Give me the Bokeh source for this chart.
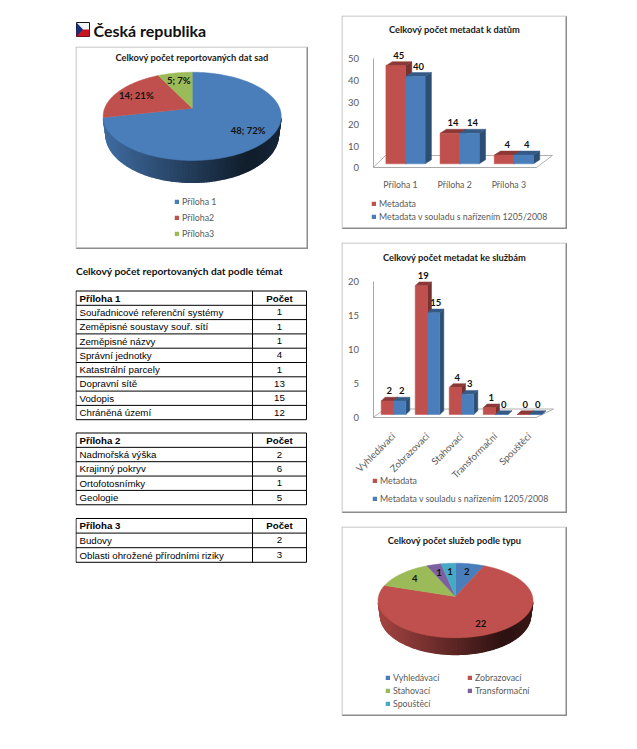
import math
from bokeh.embed import file_html
from bokeh.resources import INLINE
from bokeh.plotting import figure
from bokeh.layouts import row, column
from bokeh.models import Range1d, FixedTicker, Legend, LegendItem
from bokeh.core.properties import value

# ---------- data ----------
heading = "Česká republika"

pie1_title = "Celkový počet reportovaných dat sad"
pie1_names = ["Příloha 1", "Příloha2", "Příloha3"]
pie1_values = [48, 14, 5]
pie1_labels = ["48; 72%", "14; 21%", "5; 7%"]

bar1_title = "Celkový počet metadat k datům"
bar1_cats = ["Příloha 1", "Příloha 2", "Příloha 3"]
bar1_meta = [45, 14, 4]
bar1_conf = [40, 14, 4]

bar2_title = "Celkový počet metadat ke službám"
bar2_cats = ["Vyhledávací", "Zobrazovací", "Stahovací", "Transformační", "Spouštěcí"]
bar2_meta = [2, 19, 4, 1, 0]
bar2_conf = [2, 15, 3, 0, 0]

series_names = ["Metadata", "Metadata v souladu s nařízením 1205/2008"]

pie2_title = "Celkový počet služeb podle typu"
pie2_names = ["Vyhledávací", "Zobrazovací", "Stahovací", "Transformační", "Spouštěcí"]
pie2_values = [2, 22, 4, 1, 1]

table_title = "Celkový počet reportovaných dat podle témat"
count_header = "Počet"
t1_header = "Příloha 1"
t1_names = ["Souřadnicové referenční systémy", "Zeměpisné soustavy souř. sítí", "Zeměpisné názvy",
            "Správní jednotky", "Katastrální parcely", "Dopravní sítě", "Vodopis", "Chráněná území"]
t1_counts = [1, 1, 1, 4, 1, 13, 15, 12]
t2_header = "Příloha 2"
t2_names = ["Nadmořská výška", "Krajinný pokryv", "Ortofotosnímky", "Geologie"]
t2_counts = [2, 6, 1, 5]
t3_header = "Příloha 3"
t3_names = ["Budovy", "Oblasti ohrožené přírodními riziky"]
t3_counts = [2, 3]

# ---------- style ----------
BLUE, RED, GREEN, PURPLE, TEAL = "#4A7EBB", "#C0504D", "#9BBB59", "#7D60A0", "#46AAC5"
FONT = value("Lato")
GREY = "#595959"


def rgb(hexc):
    return [int(hexc[i:i + 2], 16) for i in (1, 3, 5)]


def shade(hexc, f):
    return "#%02x%02x%02x" % tuple(int(max(0, min(255, c * f))) for c in rgb(hexc))


def panel(w, h, x0, x1, y0, y1, margin):
    p = figure(width=w, height=h, output_backend="svg", toolbar_location=None,
               x_range=Range1d(x0, x1), y_range=Range1d(y0, y1),
               min_border=0, min_border_left=0, min_border_right=0,
               min_border_top=0, min_border_bottom=0, margin=margin,
               background_fill_color="white", border_fill_color="white")
    p.grid.visible = False
    return p


def box_frame(p, w, h, fx, fy):
    """grey frame with its heavier lower/right edge; fx, fy turn pixels into data"""
    p.outline_line_color = None
    p.line([fx(.5), fx(.5), fx(w - 1), fx(w - 1), fx(.5)],
           [fy(.5), fy(h - 1), fy(h - 1), fy(.5), fy(.5)], line_color="#b4b4b4", line_width=1)
    p.line([fx(1), fx(w - 1), fx(w - 1)], [fy(h - 1), fy(h - 1), fy(1)], line_color="#8c8c8c", line_width=2)


def legend(p, items, x, y, spacing, ncols=1, label_width=20, orientation="vertical"):
    lg = Legend(items=[LegendItem(label=value(n), renderers=[r]) for n, r in items],
                location=(x, y), orientation=orientation, ncols=ncols, padding=0, margin=0,
                border_line_color=None, background_fill_alpha=0,
                glyph_width=5, glyph_height=5, label_height=9, label_width=label_width,
                label_standoff=3, spacing=spacing,
                label_text_font="Lato", label_text_font_size="8.8px", label_text_color=GREY)
    p.add_layout(lg, "center")


def pie_panel(w, h, margin, title, title_y, names, values, colors, labels, apex, a, b, k, depth,
              leg):
    p = panel(w, h, 0, w, h, 0, margin)
    p.xaxis.visible = False
    p.yaxis.visible = False
    box_frame(p, w, h, lambda v: v, lambda v: v)
    p.text([w / 2], [title_y], text=[title], text_font=FONT, text_font_style="bold",
           text_font_size="9.3px", text_align="center", text_baseline="middle", text_color="#1a1a1a")
    ax, ay = apex

    def proj(t, r=1.0, drop=0.0):
        u, v = r * math.sin(t), r * math.cos(t)
        wp = 1 + k * v
        return ax + a * u / (wp + 0.03 * (drop > 0)), ay - b * v / wp + drop / wp

    total = sum(values)
    edges = [0.0]
    for val in values:
        edges.append(edges[-1] + val / total * 2 * math.pi)
    # outer wall: strips along the visible front rim
    left, right = ax - a * 1.02, ax + a * 1.02
    xs, ys, cols = [], [], []
    for i, col in enumerate(colors):
        n = max(2, int((edges[i + 1] - edges[i]) / math.radians(1.5)))
        for j in range(n):
            t0 = edges[i] + (edges[i + 1] - edges[i]) * j / n
            t1 = edges[i] + (edges[i + 1] - edges[i]) * (j + 1) / n
            if math.cos((t0 + t1) / 2) > -k - 0.04:
                continue
            x0, y0 = proj(t0)
            x1, y1 = proj(t1)
            x2, y2 = proj(t1, drop=depth)
            x3, y3 = proj(t0, drop=depth)
            tt = ((x0 + x1) / 2 - left) / (right - left)
            f = 0.86 - 0.62 * min(1, tt / 0.8) + max(0, tt - 0.85) * 0.5
            xs.append([x0, x1, x2, x3])
            ys.append([y0, y1, y2, y3])
            cols.append(shade(col, f))
    p.patches(xs, ys, fill_color=cols, line_color=cols, line_width=1.2)
    rends = []
    for i, col in enumerate(colors):
        n = max(2, int((edges[i + 1] - edges[i]) / math.radians(1)))
        pts = [proj(edges[i] + (edges[i + 1] - edges[i]) * j / n) for j in range(n + 1)]
        rends.append(p.patch([ax] + [q[0] for q in pts], [ay] + [q[1] for q in pts],
                             fill_color=col, line_color=col, line_width=0.5))
    lx, ly = [], []
    for i in range(len(values)):
        qx, qy = proj((edges[i] + edges[i + 1]) / 2, r=0.75)
        lx.append(qx)
        ly.append(qy)
    p.text(lx, ly, text=labels, text_font=FONT, text_font_style="bold", text_font_size="9.5px",
           text_align="center", text_baseline="middle", text_color="#111111")
    legend(p, list(zip(names, rends)), **leg)
    return p


def bar_panel(w, h, margin, title, title_y, cats, meta, conf, cat0, cat_step, y0, scale, vmax, step,
              axis_x, front_end, back, bar_w, group_off, lift, dx, dy, orient, standoff, leg):
    # pixel geometry is turned into the value scale / the category scale
    p = panel(w, h, -cat0 / cat_step, (w - cat0) / cat_step, -(h - y0) / scale, y0 / scale, margin)
    fx = lambda px: (px - cat0) / cat_step
    fy = lambda py: (y0 - py) / scale
    box_frame(p, w, h, fx, fy)
    p.text([fx(w / 2)], [fy(title_y)], text=[title], text_font=FONT, text_font_style="bold",
           text_font_size="9.3px", text_align="center", text_baseline="middle", text_color="#1a1a1a")
    # floor
    bx0, bx1, by = back
    p.line([fx(axis_x), fx(bx0), fx(bx1), fx(front_end)], [0, fy(by), fy(by), 0],
           line_color="#b0b0b0", line_width=1)

    ddx, ddy, bw, gap, base = dx / cat_step, dy / scale, bar_w / cat_step, group_off / cat_step, lift / scale

    rend = []
    for vals, col, sgn in ((meta, RED, -1), (conf, BLUE, 0)):
        cl = [i + gap + sgn * bw for i in range(len(vals))]
        cr = [c + bw for c in cl]
        tops = [base + v for v in vals]
        side = [[r, r + ddx, r + ddx, r] for r in cr]
        sidey = [[base, base + ddy, t + ddy, t] for t in tops]
        cap = [[l, l + ddx, r + ddx, r] for l, r in zip(cl, cr)]
        capy = [[t, t + ddy, t + ddy, t] for t in tops]
        p.patches(side, sidey, fill_color=shade(col, 0.62), line_color=shade(col, 0.62), line_width=0.5)
        p.patches(cap, capy, fill_color=shade(col, 0.72), line_color=shade(col, 0.72), line_width=0.5)
        rend.append(p.quad(left=cl, right=cr, bottom=[base] * len(vals), top=tops,
                           fill_color=col, line_color=col, line_width=0.5))
        p.text([(l + r) / 2 + ddx / 2 for l, r in zip(cl, cr)],
               [t + ddy + 6.5 / scale for t in tops], text=[str(v) for v in vals],
               text_font=FONT, text_font_style="bold", text_font_size="9.5px",
               text_align="center", text_baseline="middle", text_color="#111111")

    xa = p.xaxis[0]
    xa.fixed_location = 0
    xa.bounds = (fx(axis_x), fx(front_end))
    xa.ticker = FixedTicker(ticks=list(range(len(cats))))
    xa.major_label_overrides = {i: c for i, c in enumerate(cats)}
    xa.major_tick_line_color = None
    xa.minor_tick_line_color = None
    xa.axis_line_color = "#a8a8a8"
    xa.major_label_text_font = "Lato"
    xa.major_label_text_font_size = "9.6px" if orient else "8.8px"
    xa.major_label_text_color = GREY
    xa.major_label_standoff = standoff
    if orient:
        xa.major_label_orientation = orient

    ya = p.yaxis[0]
    ya.fixed_location = fx(axis_x)
    ya.bounds = (0, vmax)
    ya.ticker = FixedTicker(ticks=list(range(0, vmax + 1, step)))
    ya.major_tick_line_color = None
    ya.minor_tick_line_color = None
    ya.axis_line_color = "#a8a8a8"
    ya.major_label_text_font = "Lato"
    ya.major_label_text_font_size = "9.5px"
    ya.major_label_text_color = GREY
    ya.major_label_standoff = 8
    legend(p, list(zip(series_names, rend)), **leg)
    return p


# ---------- left column ----------
header = panel(232, 26, 0, 232, 26, 0, (18, 0, 0, 75))
header.xaxis.visible = False
header.yaxis.visible = False
header.outline_line_color = None
header.quad(left=[1], right=[14], top=[4], bottom=[18], fill_color="#f4f4f4", line_color="#15151f", line_width=1)
header.quad(left=[1], right=[14], top=[11], bottom=[18], fill_color="#c8141e", line_color=None)
header.patch([1, 7.5, 1], [4, 11, 18], fill_color="#13307a", line_color=None)
header.text([18], [12], text=[heading], text_font=FONT, text_font_style="bold", text_font_size="16px",
            text_baseline="middle", text_color="#101010")

pie1 = pie_panel(233, 203, (2, 0, 0, 75), pie1_title, 10.7, pie1_names, pie1_values,
                 [BLUE, RED, GREEN], pie1_labels, (116.7, 61.7), 87.5, 42.6, 0.1846, 18,
                 dict(x=99, y=10, spacing=5))


def draw_table(p, top, head, names, counts, row_h):
    n = len(names)
    ys = [top + row_h * (i + 1) for i in range(n + 1)]
    all_y = [top] + ys
    L, C, R = 0.5, 177, 231
    p.segment([L] * len(all_y), all_y, [R] * len(all_y), all_y, line_color="black", line_width=1)
    p.segment([L, C, R], [top] * 3, [L, C, R], [all_y[-1]] * 3, line_color="black", line_width=1)
    mids = [top + row_h * (i + .5) for i in range(n + 1)]
    p.text([4], [mids[0]], text=[head], text_font=value("Liberation Sans"), text_font_style="bold",
           text_font_size="9.7px", text_baseline="middle", text_color="black")
    p.text([(C + R) / 2], [mids[0]], text=[count_header], text_font=value("Liberation Sans"),
           text_font_style="bold", text_font_size="9.7px", text_align="center", text_baseline="middle",
           text_color="black")
    p.text([4] * n, mids[1:], text=names, text_font=value("Liberation Sans"), text_font_size="9.7px",
           text_baseline="middle", text_color="black")
    p.text([(C + R) / 2] * n, mids[1:], text=[str(c) for c in counts], text_font=value("Liberation Sans"),
           text_font_size="9.7px", text_align="center", text_baseline="middle", text_color="black")


tbl = panel(233, 306, 0, 233, 306, 0, (13, 0, 0, 75))
tbl.xaxis.visible = False
tbl.yaxis.visible = False
tbl.outline_line_color = None
tbl.text([0.5], [8], text=[table_title], text_font=FONT, text_font_style="bold", text_font_size="10.2px",
         text_baseline="middle", text_color="#101010")
draw_table(tbl, 28.5, t1_header, t1_names, t1_counts, 14.3)
draw_table(tbl, 170.5, t2_header, t2_names, t2_counts, 14.35)
draw_table(tbl, 256, t3_header, t3_names, t3_counts, 14.6)

# ---------- right column ----------
bar1 = bar_panel(226, 214, (15, 0, 0, 33), bar1_title, 14.3, bar1_cats, bar1_meta, bar1_conf,
                 59, 54.17, 152.3, 2.18, 50, 10, 31.5, 194.5, (44.0, 211.0, 140.0), 19.6, 5, 4, 6.3, 4,
                 None, 5, dict(x=30, y=7, spacing=2))

bar2 = bar_panel(226, 271, (13, 0, 0, 33), bar2_title, 15.3, bar2_cats, bar2_meta, bar2_conf,
                 52, 34, 175, 6.78, 20, 5, 31.5, 194.5, (43.5, 212.0, 166.5), 12.3, 0, 3, 4, 3.7,
                 math.pi / 4, 11, dict(x=31, y=9, spacing=7))

pie2 = pie_panel(226, 190, (13, 0, 0, 33), pie2_title, 14, pie2_names, pie2_values,
                 [BLUE, RED, GREEN, PURPLE, TEAL], [str(v) for v in pie2_values],
                 (114, 70), 77, 36.9, 0.107, 15,
                 dict(x=44, y=7, spacing=2, ncols=2, label_width=72, orientation="horizontal"))

left = column(header, pie1, tbl)
right = column(bar1, bar2, pie2)
page = row(left, right)

open("out.html", "w").write(file_html(page, INLINE))
